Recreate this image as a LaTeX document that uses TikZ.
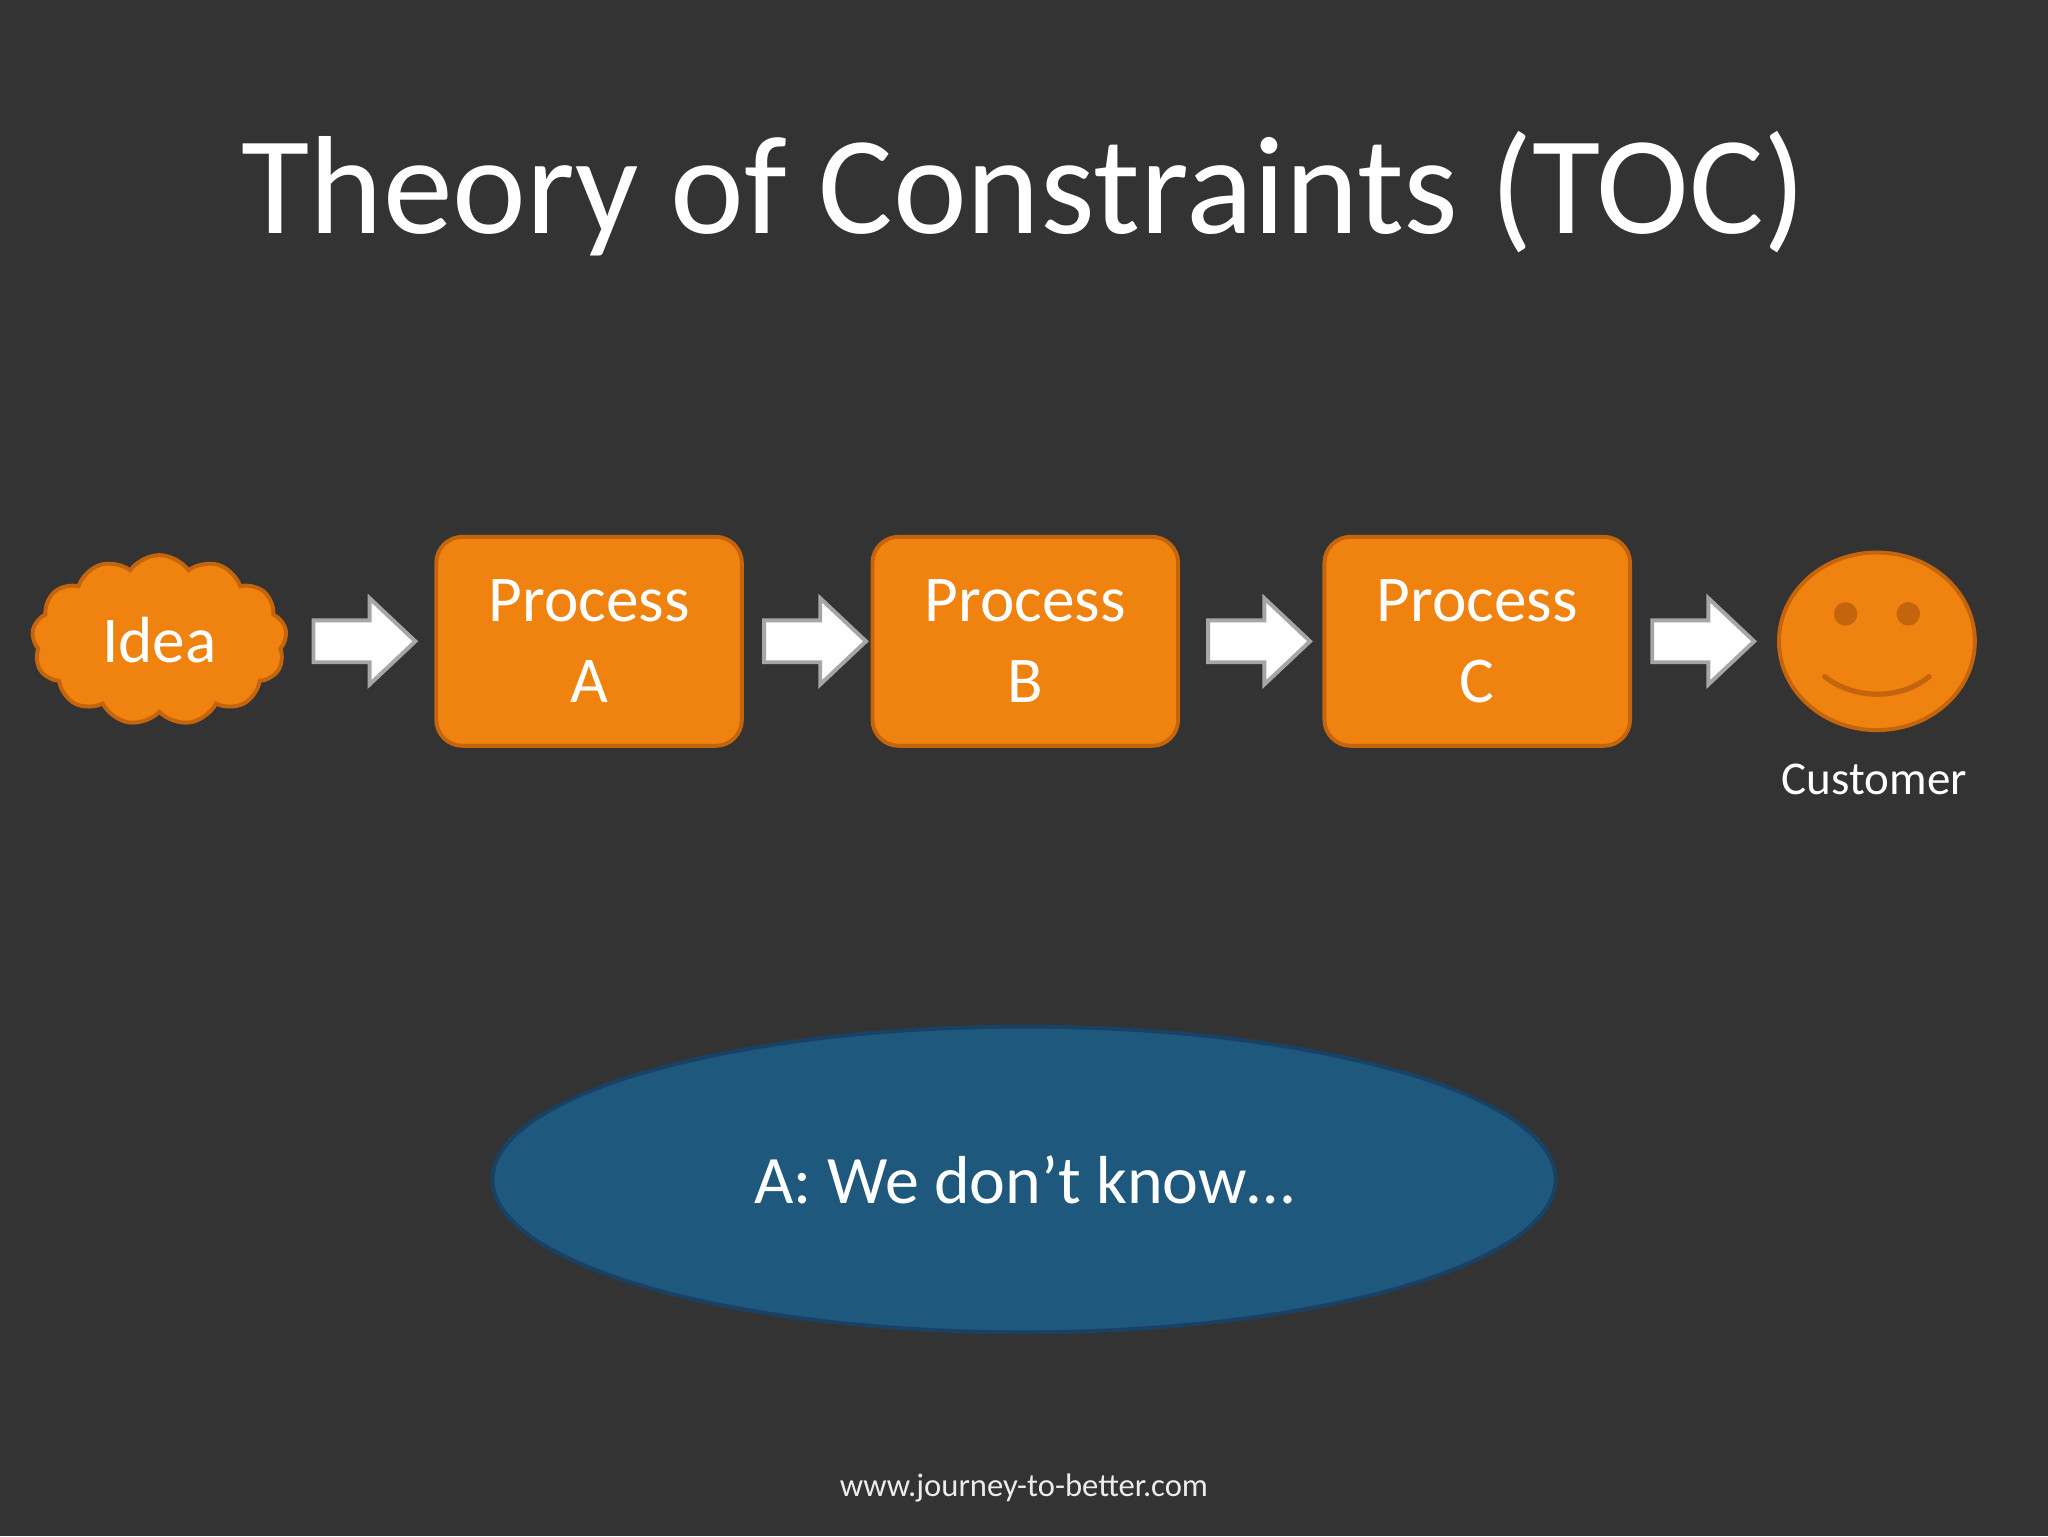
\documentclass[tikz,border=0pt]{standalone}
\usepackage{fontspec}
\setmainfont{Carlito}
\usetikzlibrary{shapes.symbols,shapes.geometric}
\definecolor{bg}{RGB}{51,51,51}
\definecolor{org}{RGB}{240,130,15}
\definecolor{orgd}{RGB}{196,100,12}
\definecolor{blu}{RGB}{30,88,124}
\definecolor{blud}{RGB}{25,65,100}
\tikzset{
 procbox/.style={draw=orgd,line width=3pt,fill=org,rounded corners=20pt,minimum width=234pt,minimum height=160pt,text=white,font=\fontsize{50}{62}\selectfont,align=center},
 flowarrow/.style={draw=gray!70,line width=3pt,fill=white,line join=miter},
}
\newcommand{\blockarrow}[1]{\draw[flowarrow,shift={(#1,491)}] (0,-16) -- (43,-16) -- (43,-33) -- (78,0) -- (43,33) -- (43,16) -- (0,16) -- cycle;}
\begin{document}
\begin{tikzpicture}[x=1pt,y=-1pt]
\fill[bg] (0,0) rectangle (1568,1176);
\useasboundingbox (0,0) rectangle (1568,1176);
\node[text=white,font=\fontsize{107}{120}\selectfont] (title) at (784,148) {Theory of Constraints (TOC)};
\node[cloud,cloud puffs=13,cloud puff arc=110,aspect=1.6,draw=orgd,line width=3pt,fill=org,minimum width=195pt,minimum height=130pt,text=white,font=\fontsize{50}{60}\selectfont] (idea) at (122,490) {Idea};
\node[procbox] (pa) at (451,491) {Process\\A};
\node[procbox] (pb) at (785,491) {Process\\B};
\node[procbox] (pc) at (1131,491) {Process\\C};
\blockarrow{240}
\blockarrow{585}
\blockarrow{925}
\blockarrow{1265}
\node[ellipse,draw=orgd,line width=3pt,fill=org,minimum width=150pt,minimum height=136pt] (face) at (1437,491) {};
\fill[orgd] (1413,470) circle (9pt);
\fill[orgd] (1461,470) circle (9pt);
\draw[orgd,line width=4pt,line cap=round] (1397,518) .. controls (1420,536) and (1455,536) .. (1477,518);
\node[text=white,font=\fontsize{36}{42}\selectfont] (cust) at (1435,597) {Customer};
\node[ellipse,draw=blud,line width=3pt,fill=blu,minimum width=814pt,minimum height=234pt,text=white,font=\fontsize{52}{60}\selectfont] (ans) at (784,903) {A: We don’t know…};
\node[text=white!85!gray,font=\fontsize{25}{30}\selectfont] (foot) at (784,1139) {www.journey-to-better.com};
\end{tikzpicture}
\end{document}
